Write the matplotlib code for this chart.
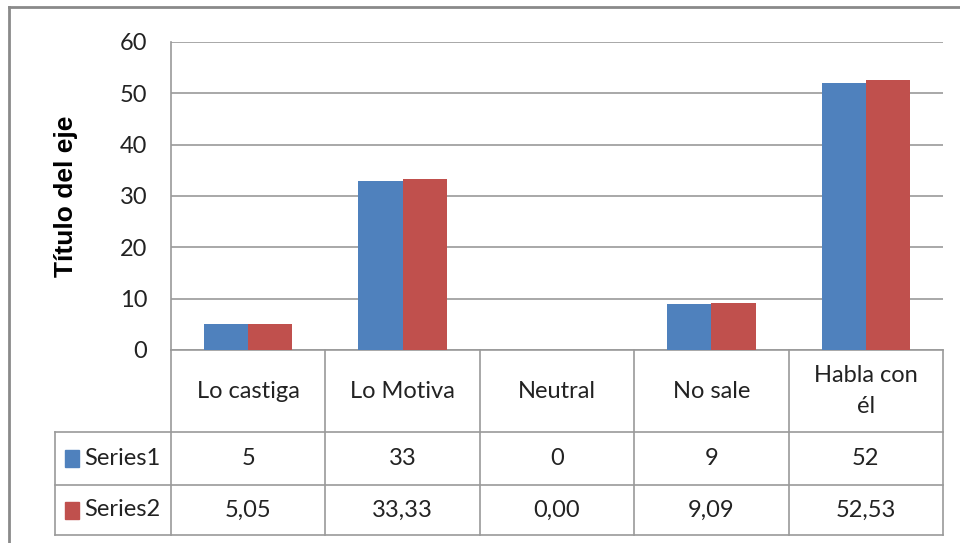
import matplotlib
matplotlib.use("Agg")
import matplotlib.pyplot as plt
from matplotlib.patches import Rectangle
from matplotlib.transforms import blended_transform_factory

categories = ["Lo castiga", "Lo Motiva", "Neutral", "No sale", "Habla con\nél"]
series_names = ["Series1", "Series2"]
series1 = [5, 33, 0, 9, 52]
series2 = [5.05, 33.33, 0.00, 9.09, 52.53]
series1_labels = ["5", "33", "0", "9", "52"]
series2_labels = ["5,05", "33,33", "0,00", "9,09", "52,53"]
yticks = [0, 10, 20, 30, 40, 50, 60]
colors = ["#4F81BD", "#C0504D"]

W, H = 960, 543
fig = plt.figure(figsize=(W / 100, H / 100), dpi=100)
plt.rcParams['font.family'] = ['Lato', 'DejaVu Sans']
FS = 17

# plot area in pixels
L, R, T, B = 171, 943, 42, 350
ax = fig.add_axes([L / W, 1 - B / H, (R - L) / W, (B - T) / H])

x = list(range(len(categories)))
bw = 0.286
ax.bar([i - bw / 2 for i in x], series1, width=bw, color=colors[0], zorder=3)
ax.bar([i + bw / 2 for i in x], series2, width=bw, color=colors[1], zorder=3)

ax.set_xlim(-0.5, len(categories) - 0.5)
ax.set_ylim(0, 60)
ax.set_yticks(yticks)
ax.set_yticklabels([str(v) for v in yticks], fontsize=FS, color="#222222")
ax.tick_params(axis='y', length=0, pad=17)
ax.set_xticks([])
ax.grid(axis='y', color="#9a9a9a", linewidth=1.2, zorder=0)
for s in ["top", "right", "bottom"]:
    ax.spines[s].set_visible(False)
ax.spines["left"].set_color("#9a9a9a")
ax.spines["left"].set_linewidth(1.2)

ax.set_ylabel("Título del eje", fontsize=19, fontweight="bold",
              family=["Liberation Sans", "DejaVu Sans"], labelpad=30)

# data table below the axes
tr = blended_transform_factory(ax.transData, ax.transAxes)
ph = B - T
def yf(py):
    return (B - py) / ph

y_cat_top = yf(350)
y_r1 = yf(432)
y_r2 = yf(485)
y_bot = yf(535)
colw = (R - L) / len(categories)
x_leg = -0.5 - (L - 55) / colw
xr = len(categories) - 0.5
lc = "#9a9a9a"
lw = 1.2
kw = dict(transform=tr, color=lc, linewidth=lw, clip_on=False)
# horizontal lines
ax.plot([-0.5, xr], [y_cat_top, y_cat_top], **kw)
for yy in [y_r1, y_r2, y_bot]:
    ax.plot([x_leg, xr], [yy, yy], **kw)
# vertical lines
for xx in [i - 0.5 for i in range(len(categories) + 1)]:
    ax.plot([xx, xx], [y_cat_top, y_bot], **kw)
ax.plot([x_leg, x_leg], [y_r1, y_bot], **kw)

tk = dict(transform=tr, ha="center", va="center", fontsize=FS, color="#222222", clip_on=False)
for i, c in enumerate(categories):
    ax.text(i, (y_cat_top + y_r1) / 2, c, linespacing=1.6, **tk)
    ax.text(i, (y_r1 + y_r2) / 2, series1_labels[i], **tk)
    ax.text(i, (y_r2 + y_bot) / 2, series2_labels[i], **tk)

for j, (name, yc) in enumerate(zip(series_names, [(y_r1 + y_r2) / 2, (y_r2 + y_bot) / 2])):
    sq_w = 14 / colw
    sq_h = 17 / ph
    ax.add_patch(Rectangle((x_leg + 10 / colw, yc - sq_h / 2), sq_w, sq_h, transform=tr,
                           color=colors[j], clip_on=False))
    ax.text(x_leg + 29 / colw, yc, name, transform=tr, ha="left", va="center",
            fontsize=FS, color="#222222", clip_on=False)

# outer chart border (top and left visible)
fig.add_artist(plt.Line2D([9 / W, 1], [1 - 7 / H, 1 - 7 / H], color="#8a8a8a", linewidth=2))
fig.add_artist(plt.Line2D([9 / W, 9 / W], [0, 1 - 7 / H], color="#8a8a8a", linewidth=2))

fig.savefig("out.png", dpi=100)
